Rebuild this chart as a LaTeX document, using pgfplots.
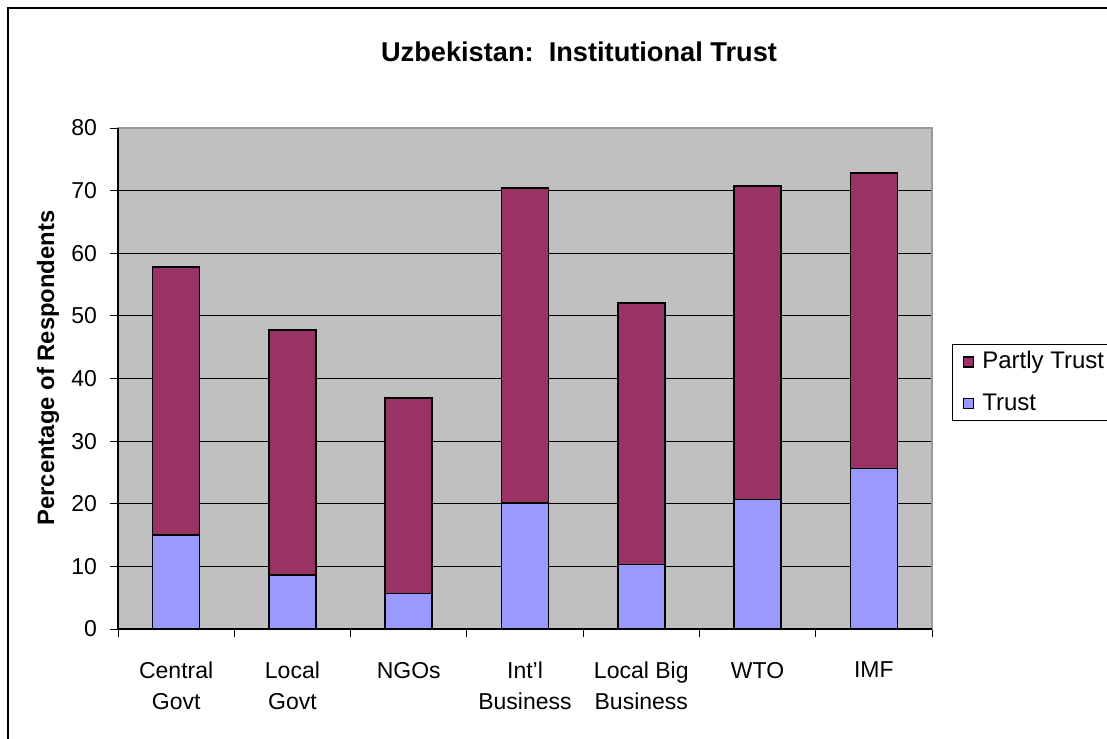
\documentclass[border=0pt]{standalone}
\usepackage{fontspec}
\setmainfont{Liberation Sans}[Ligatures=ResetAll]
\usepackage{pgfplots}
\pgfplotsset{compat=1.18}
\definecolor{partly}{HTML}{993366}
\definecolor{trust}{HTML}{9999FF}
\definecolor{bgray}{HTML}{C0C0C0}
\begin{document}
\begin{tikzpicture}[x=1pt,y=1pt]
\useasboundingbox (0,0) rectangle (553.5,369);
\fill[white] (0,0) rectangle (553.5,369);
\draw[line width=1.2pt] (4,-5) -- (4,365) -- (560,365);
\node[font=\bfseries\fontsize{13.6}{16}\selectfont] at (289.5,343) {Uzbekistan:\ \ Institutional Trust};
\node[font=\bfseries\fontsize{11.9}{14}\selectfont, rotate=90] at (24,185) {Percentage of Respondents};
\begin{axis}[
  at={(59pt,54.5pt)}, anchor=origin,
  scale only axis, width=407pt, height=250.5pt,
  ybar stacked, bar width=23.5pt,
  xmin=0, xmax=7, ymin=0, ymax=80,
  ytick={0,10,...,80},
  xtick={0.5,1.5,...,6.5},
  xticklabels={{Central\\Govt},{Local\\Govt},{NGOs},{Int'l\\Business},{Local Big\\Business},{WTO},{IMF}},
  minor xtick={0,1,...,7},
  xtick pos=bottom, ytick pos=left,
  major x tick style={draw=none},
  tick align=outside,
  major tick length=4pt, minor tick length=4pt,
  tick style={black, line width=0.5pt},
  ymajorgrids, grid style={black, line width=0.5pt},
  axis background/.style={fill=bgray},
  axis line style={draw=gray!80, line width=0.8pt},
  /pgf/number format/assume math mode=true,
  ticklabel style={font=\fontsize{11.5}{15.5}\selectfont},
  xticklabel style={align=center, anchor=north, yshift=-9pt},
  yticklabel style={xshift=-3pt},
  legend style={at={(1.0246,0.569)}, anchor=north west, draw=black, line width=0.5pt,
    font=\fontsize{12}{14}\selectfont, row sep=7pt, inner xsep=5pt, inner ysep=1.5pt,
    cells={anchor=west},
    /tikz/every odd column/.append style={column sep=2pt}},
  legend image code/.code={\draw[#1, line width=0.9pt] (0pt,-2.5pt) rectangle (5pt,2.5pt);},
  reverse legend,
  clip=false,
]
\addplot[fill=trust, draw=black, line width=0.8pt] coordinates {(0.5,15) (1.5,8.6) (2.5,5.7) (3.5,20.1) (4.5,10.3) (5.5,20.7) (6.5,25.6)};
\addplot[fill=partly, draw=black, line width=0.8pt] coordinates {(0.5,42.8) (1.5,39.1) (2.5,31.15) (3.5,50.3) (4.5,41.8) (5.5,50.0) (6.5,47.2)};
\legend{Trust, Partly Trust}
\draw[black, line width=0.6pt] (rel axis cs:0,1) -- (rel axis cs:0,0) -- (rel axis cs:1,0);
\end{axis}
\end{tikzpicture}
\end{document}
